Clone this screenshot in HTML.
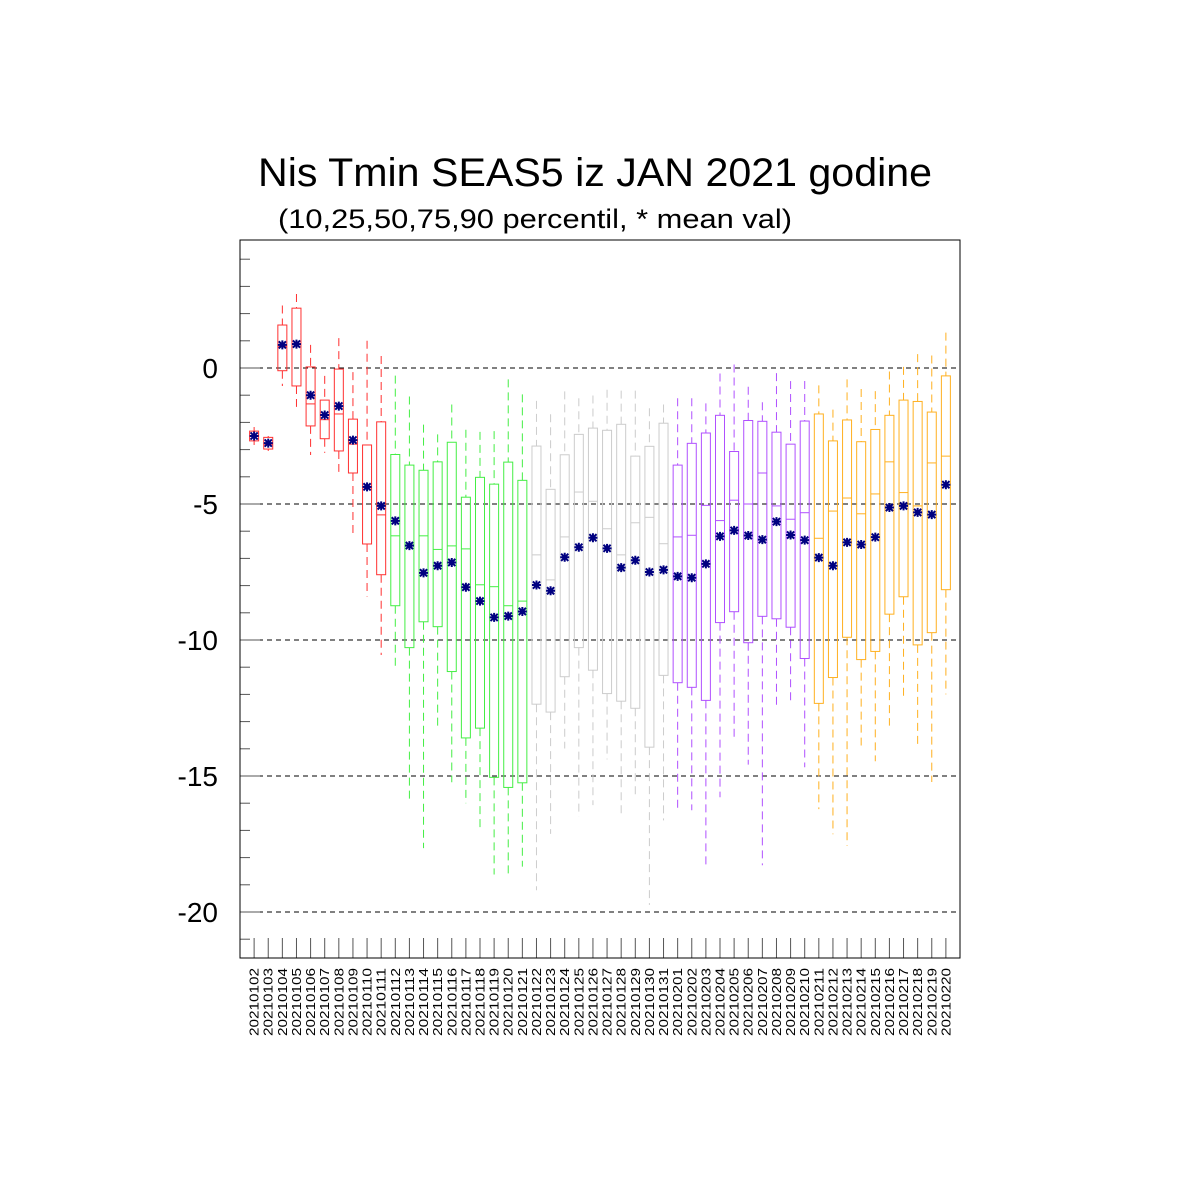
<!DOCTYPE html>
<html><head><meta charset="utf-8"><style>
html,body{margin:0;padding:0;background:#fff;}
svg{display:block;font-family:"Liberation Sans",sans-serif;}
</style></head><body>
<svg id="chart" width="1200" height="1200" viewBox="0 0 1200 1200">
<text x="258" y="186" font-size="40" textLength="674" lengthAdjust="spacingAndGlyphs">Nis Tmin SEAS5 iz JAN 2021 godine</text>
<text x="278" y="228" font-size="27" textLength="514" lengthAdjust="spacingAndGlyphs">(10,25,50,75,90 percentil, * mean val)</text>
<g id="grid"></g>
<g id="boxes"></g>
<g id="axes"></g>
<rect x="240" y="240" width="720" height="718" fill="none" stroke="#000" stroke-width="1"/>
</svg>
<script>
const dates = ["20210102","20210103","20210104","20210105","20210106","20210107","20210108","20210109","20210110","20210111","20210112","20210113","20210114","20210115","20210116","20210117","20210118","20210119","20210120","20210121","20210122","20210123","20210124","20210125","20210126","20210127","20210128","20210129","20210130","20210131","20210201","20210202","20210203","20210204","20210205","20210206","20210207","20210208","20210209","20210210","20210211","20210212","20210213","20210214","20210215","20210216","20210217","20210218","20210219","20210220"];
const p10 = [-2.83,-3.05,-0.66,-1.43,-3.2,-3.12,-3.82,-6.2,-8.4,-10.55,-10.95,-15.83,-17.65,-13.28,-15.23,-16.0,-16.88,-18.62,-18.69,-18.33,-19.2,-17.13,-13.99,-16.5,-16.07,-14.39,-16.55,-15.8,-19.74,-16.63,-16.33,-16.26,-18.28,-15.78,-13.69,-14.58,-18.28,-12.43,-12.3,-14.68,-16.22,-17.14,-17.57,-13.88,-14.46,-13.15,-12.15,-13.84,-15.22,-12.0];
const p25 = [-2.68,-2.98,-0.1,-0.66,-2.13,-2.6,-3.05,-3.86,-6.47,-7.6,-8.74,-10.28,-9.33,-9.51,-11.16,-13.6,-13.24,-15.05,-15.42,-15.25,-12.36,-12.65,-11.35,-10.28,-11.11,-11.97,-12.25,-12.51,-13.94,-11.3,-11.57,-11.74,-12.22,-9.36,-8.96,-10.1,-9.13,-9.22,-9.53,-10.68,-12.33,-11.38,-9.9,-10.72,-10.42,-9.05,-8.41,-10.18,-9.73,-8.15];
const p50 = [-2.5,-2.8,0.8,0.9,-1.32,-1.9,-1.69,-2.8,-4.4,-5.4,-6.17,-6.5,-6.17,-6.67,-6.54,-6.65,-7.97,-8.04,-8.74,-8.57,-6.87,-7.79,-6.21,-4.56,-4.9,-5.91,-6.87,-5.69,-5.49,-6.46,-6.21,-6.15,-5.05,-5.61,-4.86,-5.0,-3.86,-5.07,-5.56,-5.32,-6.26,-5.26,-4.78,-5.36,-4.63,-3.45,-4.58,-5.07,-3.49,-3.24];
const p75 = [-2.32,-2.55,1.58,2.2,0.04,-1.18,-0.04,-1.88,-2.83,-1.98,-3.18,-3.57,-3.76,-3.45,-2.73,-4.75,-4.02,-4.27,-3.46,-4.13,-2.87,-4.46,-3.19,-2.44,-2.21,-2.29,-2.07,-3.24,-2.88,-2.03,-3.57,-2.77,-2.39,-1.74,-3.07,-1.93,-1.96,-2.36,-2.8,-1.95,-1.69,-2.68,-1.91,-2.71,-2.26,-1.74,-1.18,-1.23,-1.62,-0.29];
const p90 = [-2.17,-2.5,2.3,2.72,0.85,-0.29,1.1,-0.15,1.0,0.44,-0.28,-1.05,-2.08,-2.44,-1.34,-2.27,-2.35,-2.32,-0.42,-0.97,-1.21,-1.7,-0.86,-1.11,-1.01,-0.8,-0.83,-0.83,-1.48,-1.34,-1.11,-1.11,-1.3,-0.2,0.13,-0.69,-1.26,-0.19,-0.48,-0.48,-0.64,-1.53,-0.42,-0.77,-0.85,-0.13,0.04,0.51,0.46,1.3];
const means = [-2.5,-2.76,0.85,0.88,-1.0,-1.73,-1.4,-2.65,-4.37,-5.07,-5.62,-6.53,-7.53,-7.27,-7.15,-8.06,-8.57,-9.17,-9.12,-8.95,-7.98,-8.19,-6.96,-6.59,-6.24,-6.63,-7.34,-7.07,-7.5,-7.42,-7.66,-7.71,-7.2,-6.19,-5.97,-6.16,-6.31,-5.65,-6.14,-6.33,-6.97,-7.27,-6.41,-6.49,-6.22,-5.13,-5.07,-5.31,-5.39,-4.29];
const yTicks = [0,-5,-10,-15,-20];
const yTickLabels = ["0","-5","-10","-15","-20"];

const NS = "http://www.w3.org/2000/svg";
const PL = 240, PR = 960, PT = 240, PB = 958;
function yScale(v){ return 368 - v * 27.2; }
function xScale(i){ return PL + (PR - PL) / (dates.length + 1) * (i + 1); }
function mk(tag, attrs, parent){ const e = document.createElementNS(NS, tag); for (const k in attrs) e.setAttribute(k, attrs[k]); parent.appendChild(e); return e; }
const colors = ["#ff3030","#44ee44","#cccccc","#b050ff","#ffb020"];

const grid = document.getElementById('grid');
const axes = document.getElementById('axes');
yTicks.forEach((t, k) => {
  const y = yScale(t);
  const l = mk('line', {x1: PL, x2: PR, y1: y, y2: y, stroke: '#000', 'stroke-width': 1, 'stroke-dasharray': '5,4'}, grid);
  
  
  const tx = mk('text', {x: 218, y: y + 10, 'font-size': 28, 'text-anchor': 'end'}, axes);
  tx.textContent = yTickLabels[k];
  
  
});
for (let v = 4; v >= -21; v--) {
  const y = yScale(v);
  const major = v % 5 === 0;
  const tk = mk('line', {x1: PL, x2: PL + (major ? 20 : 10), y1: y, y2: y, stroke: '#555', 'stroke-width': 1}, axes);
  
  
}

const boxes = document.getElementById('boxes');
dates.forEach((d, i) => {
  const x = xScale(i);
  const c = colors[Math.floor(i / 10)];
  const g = mk('g', {}, boxes);
  
  
  const w = 4.5;
  const wh1 = mk('line', {x1: x, x2: x, y1: yScale(p90[i]), y2: yScale(p75[i]), stroke: c, 'stroke-width': 1, 'stroke-dasharray': '8,5'}, g);
  
  
  const wh2 = mk('line', {x1: x, x2: x, y1: yScale(p25[i]), y2: yScale(p10[i]), stroke: c, 'stroke-width': 1, 'stroke-dasharray': '8,5'}, g);
  
  
  const r = mk('rect', {x: x - w, y: yScale(p75[i]), width: 2 * w, height: yScale(p25[i]) - yScale(p75[i]), fill: 'none', stroke: c, 'stroke-width': 1}, g);
  
  
  const md = mk('line', {x1: x - w, x2: x + w, y1: yScale(p50[i]), y2: yScale(p50[i]), stroke: c, 'stroke-width': 1}, g);
  
  
  const my = yScale(means[i]);
  const s = 4.5;
  const m = mk('path', {d: `M${x-s},${my}H${x+s}M${x},${my-s}V${my+s}M${x-s*0.8},${my-s*0.8}L${x+s*0.8},${my+s*0.8}M${x-s*0.8},${my+s*0.8}L${x+s*0.8},${my-s*0.8}`, stroke: '#000080', 'stroke-width': 2}, g);
  
  
  const xt = mk('line', {x1: x, x2: x, y1: PB - 20, y2: PB, stroke: '#555', 'stroke-width': 1}, axes);
  
  
  const lb = mk('text', {x: 0, y: 0, 'font-size': 12.5, 'text-anchor': 'end', textLength: 68, lengthAdjust: 'spacingAndGlyphs', transform: `translate(${x + 4.5},968) rotate(-90)`}, axes);
  lb.textContent = d;
  
  
});
</script>
</body></html>
